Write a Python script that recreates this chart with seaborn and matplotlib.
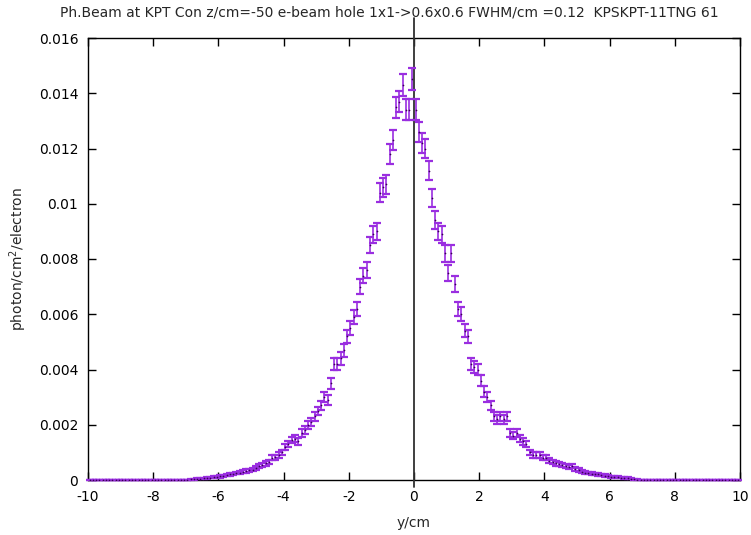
import numpy as np
import pandas as pd
import matplotlib
matplotlib.use("Agg")
import matplotlib.pyplot as plt
import seaborn as sns

# ---------------------------------------------------------
# data (0.1 cm bins)
# ---------------------------------------------------------
title = "Ph.Beam at KPT Con z/cm=-50 e-beam hole 1x1->0.6x0.6 FWHM/cm =0.12  KPSKPT-11TNG 61"

# bins -6.95 ... -0.05
left_vals = [0.0, 0.00002, 0.00003, 0.00004, 0.00005, 0.00006, 0.00008, 0.00009, 0.0001, 0.00012,
             0.00013, 0.00015, 0.00017, 0.0002, 0.00022, 0.00025, 0.00027, 0.0003, 0.00033, 0.00035,
             0.00038, 0.00045, 0.0005, 0.00055, 0.0006, 0.00065, 0.0008, 0.00083, 0.0009, 0.001,
             0.0012, 0.0013, 0.00145, 0.0015, 0.0014, 0.0017, 0.0018, 0.002, 0.0021, 0.0023,
             0.0025, 0.0027, 0.003, 0.0029, 0.0035, 0.0042, 0.0042, 0.0044, 0.0047, 0.0052,
             0.0055, 0.0059, 0.0062, 0.007, 0.0074, 0.0076, 0.0085, 0.0089, 0.009, 0.0104,
             0.0106, 0.0107, 0.0118, 0.0123, 0.0135, 0.0137, 0.0143, 0.0134, 0.0134, 0.0145]
left_errs = [0.0, 0.00002, 0.00002, 0.00002, 0.00003, 0.00003, 0.00003, 0.00003, 0.00003, 0.00004,
             0.00004, 0.00004, 0.00004, 0.00005, 0.00005, 0.00005, 0.00005, 0.00006, 0.00006, 0.00006,
             0.00006, 0.00007, 0.00007, 0.00008, 0.00008, 0.00008, 0.00009, 0.00009, 0.0001, 0.0001,
             0.00011, 0.00012, 0.00012, 0.00013, 0.00012, 0.00013, 0.00014, 0.00015, 0.00015, 0.00016,
             0.00016, 0.00017, 0.00018, 0.00018, 0.0002, 0.00021, 0.00021, 0.00022, 0.00023, 0.00024,
             0.00025, 0.00025, 0.00026, 0.00028, 0.00028, 0.00029, 0.0003, 0.00031, 0.00031, 0.00034,
             0.00034, 0.00034, 0.00036, 0.00037, 0.00038, 0.00039, 0.0004, 0.00038, 0.00038, 0.0004]

# bins 0.05 ... 6.95
right_vals = [0.0134, 0.0126, 0.0122, 0.012, 0.0112, 0.0102, 0.0094, 0.009, 0.0089, 0.0082,
              0.0075, 0.0082, 0.0071, 0.0062, 0.006, 0.0054, 0.0052, 0.0042, 0.0041, 0.004,
              0.0036, 0.0032, 0.003, 0.0027, 0.0023, 0.0022, 0.0023, 0.0022, 0.0023, 0.0017,
              0.0016, 0.0017, 0.0015, 0.0014, 0.0013, 0.001, 0.0009, 0.0009, 0.0009, 0.0008,
              0.0008, 0.0007, 0.00065, 0.0006, 0.00058, 0.00055, 0.0005, 0.00048, 0.0005, 0.0004,
              0.00036, 0.0003, 0.00027, 0.00025, 0.00023, 0.00022, 0.0002, 0.00018, 0.00016, 0.00014,
              0.00012, 0.00011, 0.0001, 0.00009, 0.00008, 0.00007, 0.00005, 0.00003, 0.00001, 0.0]
right_errs = [0.00038, 0.00037, 0.00036, 0.00036, 0.00035, 0.00033, 0.00032, 0.00031, 0.00031, 0.0003,
              0.00029, 0.0003, 0.00028, 0.00026, 0.00026, 0.00024, 0.00024, 0.00021, 0.00021, 0.00021,
              0.0002, 0.00019, 0.00018, 0.00017, 0.00016, 0.00016, 0.00016, 0.00016, 0.00016, 0.00014,
              0.00013, 0.00014, 0.00013, 0.00012, 0.00012, 0.0001, 0.0001, 0.0001, 0.0001, 0.00009,
              0.00009, 0.00009, 0.00008, 0.00008, 0.00008, 0.00008, 0.00007, 0.00007, 0.00007, 0.00007,
              0.00006, 0.00006, 0.00005, 0.00005, 0.00005, 0.00005, 0.00005, 0.00004, 0.00004, 0.00004,
              0.00004, 0.00003, 0.00003, 0.00003, 0.00003, 0.00003, 0.00002, 0.00002, 0.00001, 0.0]

n_pad = 30  # empty bins out to +-10 cm
vals = [0.0] * n_pad + left_vals + right_vals + [0.0] * n_pad
errs = [0.0] * n_pad + left_errs + right_errs + [0.0] * n_pad
bins = np.round(-9.95 + 0.1 * np.arange(len(vals)), 2)

df = pd.DataFrame({"y_cm": bins, "flux": vals, "err": errs})

# ---------------------------------------------------------
# plot (gnuplot look)
# ---------------------------------------------------------
sns.set_style("ticks")
plt.rcParams["font.family"] = ["DejaVu Sans"]
plt.rcParams["font.size"] = 10
plt.rcParams["axes.unicode_minus"] = False

purple = "#9a2ee0"

fig = plt.figure(figsize=(7.51, 5.35), dpi=100)
ax = fig.add_axes([88 / 751, 1 - 480 / 535, (740 - 88) / 751, (480 - 38) / 535])

eb = ax.errorbar(df["y_cm"], df["flux"], yerr=df["err"], fmt="none", ecolor=purple,
                 elinewidth=1.2, capsize=3, capthick=1.6, zorder=6)
for art in eb.lines[1] + eb.lines[2]:
    art.set_clip_on(False)
sns.scatterplot(data=df, x="y_cm", y="flux", ax=ax, color="#3a0055", s=1.5,
                linewidth=0, zorder=7, legend=False)

ax.axvline(0, ymin=-0.015, ymax=1.045, color="#303030", lw=1.3, clip_on=False, zorder=5)

ax.set_xlim(-10, 10)
ax.set_ylim(0, 0.016)
ax.set_xticks(np.arange(-10, 11, 2))
ax.set_yticks(np.arange(0, 0.0161, 0.002))
ax.set_yticklabels(["0", "0.002", "0.004", "0.006", "0.008", "0.01", "0.012", "0.014", "0.016"])
ax.tick_params(direction="in", length=6, width=1, top=True, right=True, pad=7, colors="black")
for s in ax.spines.values():
    s.set_visible(True)
    s.set_color("black")
    s.set_linewidth(1.0)

ax.set_xlabel("y/cm", labelpad=9)
ax.set_ylabel("photon/cm$^2$/electron", labelpad=7)
fig.text(389 / 751, 1 - 13 / 535, title, ha="center", va="center", fontsize=10)

fig.savefig("out.png", dpi=100, facecolor="white")
